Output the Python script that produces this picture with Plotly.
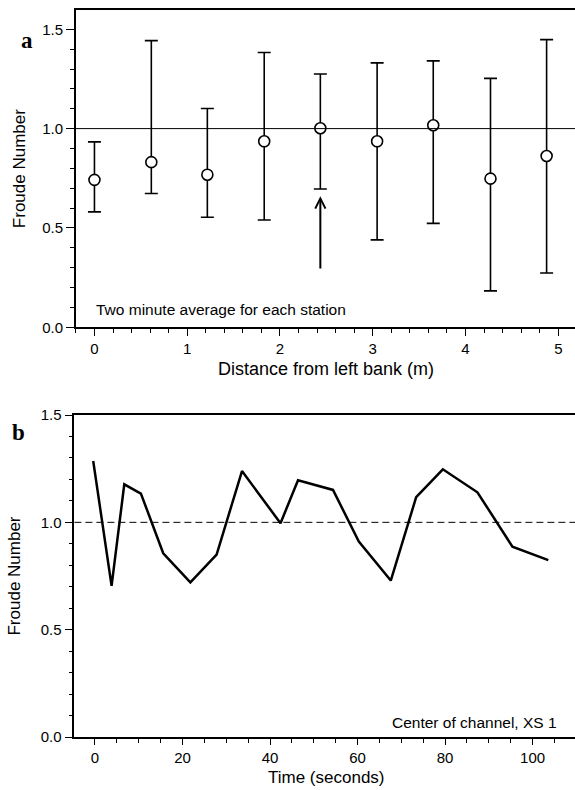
import plotly.graph_objects as go

# Panel a: station means with ranges
station_x = [0.0, 0.613, 1.217, 1.83, 2.435, 3.047, 3.652, 4.269, 4.874]
station_mean = [0.742, 0.831, 0.768, 0.936, 1.002, 0.936, 1.017, 0.748, 0.862]
station_high = [0.933, 1.443, 1.101, 1.383, 1.275, 1.331, 1.341, 1.253, 1.448]
station_low = [0.581, 0.673, 0.554, 0.540, 0.696, 0.440, 0.523, 0.183, 0.273]

# Panel b: time series at center of channel
time_s = [-0.4, 3.8, 6.7, 10.5, 15.6, 21.8, 27.8, 33.6, 42.4, 46.4, 54.4,
          60.3, 67.6, 73.4, 79.5, 87.4, 95.4, 103.6]
froude_t = [1.286, 0.704, 1.177, 1.134, 0.856, 0.720, 0.850, 1.239, 0.996,
            1.196, 1.151, 0.911, 0.729, 1.117, 1.247, 1.140, 0.887, 0.824]

arrow_x = 2.435
arrow_tail = 0.288
arrow_head = 0.66

FONT = "Liberation Sans, Arial, Helvetica, sans-serif"
SERIF = "Liberation Serif, Times New Roman, serif"

err_plus = [h - m for h, m in zip(station_high, station_mean)]
err_minus = [m - l for m, l in zip(station_mean, station_low)]

fig = go.Figure()
fig.add_trace(go.Scatter(
    x=station_x, y=station_mean, mode="markers",
    marker=dict(symbol="circle", size=11, color="white",
                line=dict(color="black", width=1.6)),
    error_y=dict(type="data", symmetric=False, array=err_plus,
                 arrayminus=err_minus, color="black", thickness=1.6, width=6.5),
    xaxis="x", yaxis="y", showlegend=False, cliponaxis=False))

fig.add_trace(go.Scatter(
    x=time_s, y=froude_t, mode="lines",
    line=dict(color="black", width=2.5),
    xaxis="x2", yaxis="y2", showlegend=False))

axis_common = dict(
    showgrid=False, zeroline=False, showline=True, linecolor="black",
    linewidth=1.6, ticks="outside", tickwidth=1.3, automargin=False,
    tickcolor="black", tickfont=dict(family=FONT, size=15, color="black"),
)
minor_x = dict(ticks="outside", ticklen=4, tickwidth=1.2, tickcolor="black")
minor_y = dict(ticks="outside", ticklen=4, tickwidth=1.2, tickcolor="black")

fig.update_layout(
    width=575, height=790,
    margin=dict(l=0, r=0, t=10, b=53),
    paper_bgcolor="white", plot_bgcolor="white",
    font=dict(family=FONT, color="black"),
    xaxis=dict(**axis_common, domain=[75.9/575, 1], range=[-0.2, 5.18],
               anchor="y", mirror=True, tick0=0, dtick=1, ticklen=7,
               minor=dict(dtick=0.2, **minor_x)),
    yaxis=dict(**axis_common, domain=[0.5636, 1.0], range=[0, 1.597],
               anchor="x", tick0=0, dtick=0.5, tickformat=".1f", ticklen=8,
               minor=dict(dtick=0.1, **minor_y),
               title=dict(text="Froude Number",
                          font=dict(family=FONT, size=17), standoff=12)),
    xaxis2=dict(**axis_common, domain=[74.4/575, 1], range=[-4.7, 109.7],
                anchor="y2", mirror=True, tick0=0, dtick=20, ticklen=6,
                minor=dict(dtick=5, **minor_x)),
    yaxis2=dict(**axis_common, domain=[0.0, 0.4429], range=[0, 1.5],
                anchor="x2", tick0=0, dtick=0.5, tickformat=".1f", ticklen=8,
                minor=dict(dtick=0.1, **minor_y),
                title=dict(text="Froude Number",
                           font=dict(family=FONT, size=17), standoff=16)),
)

# x-axis titles
fig.add_annotation(x=326/575, y=(737 - 369)/727, xref="paper", yref="paper",
                   xanchor="center", yanchor="middle", showarrow=False,
                   text="Distance from left bank (m)",
                   font=dict(family=FONT, size=18, color="black"))
fig.add_annotation(x=326/575, y=(737 - 789)/727, xref="paper", yref="paper",
                   xanchor="center", yanchor="bottom", showarrow=False,
                   text="Time (seconds)",
                   font=dict(family=FONT, size=17, color="black"))

# reference lines at Fr = 1
fig.add_shape(type="line", xref="x domain", yref="y", x0=0, x1=1, y0=1.0, y1=1.0,
              line=dict(color="black", width=1))
fig.add_shape(type="line", xref="x2 domain", yref="y2", x0=0, x1=1, y0=1.0, y1=1.0,
              line=dict(color="black", width=1, dash="7px,4px"))

# arrow
fig.add_annotation(x=arrow_x, y=arrow_head, ax=arrow_x, ay=arrow_tail,
                   xref="x", yref="y", axref="x", ayref="y", text="",
                   showarrow=True, arrowhead=5, arrowsize=1.0, arrowwidth=2,
                   arrowcolor="black")

fig.add_annotation(x=0, y=0.087, xref="x", yref="y", xanchor="left",
                   yanchor="middle", showarrow=False,
                   text="Two minute average for each station",
                   font=dict(family=FONT, size=15.5, color="black"))
fig.add_annotation(x=106.0, y=0.068, xref="x2", yref="y2", xanchor="right",
                   yanchor="middle", showarrow=False,
                   text="Center of channel, XS 1",
                   font=dict(family=FONT, size=15.5, color="black"))

fig.add_annotation(x=26.7/575, y=0.9587, xref="paper", yref="paper",
                   xanchor="center", yanchor="middle", showarrow=False,
                   text="<b>a</b>", font=dict(family=SERIF, size=23, color="black"))
fig.add_annotation(x=18.9/575, y=0.4182, xref="paper", yref="paper",
                   xanchor="center", yanchor="middle", showarrow=False,
                   text="<b>b</b>", font=dict(family=SERIF, size=23, color="black"))

fig.write_html("out.html",
               config={"displayModeBar": False},
               post_script="document.body.style.margin='0';"
                           "document.body.style.overflow='hidden';")
